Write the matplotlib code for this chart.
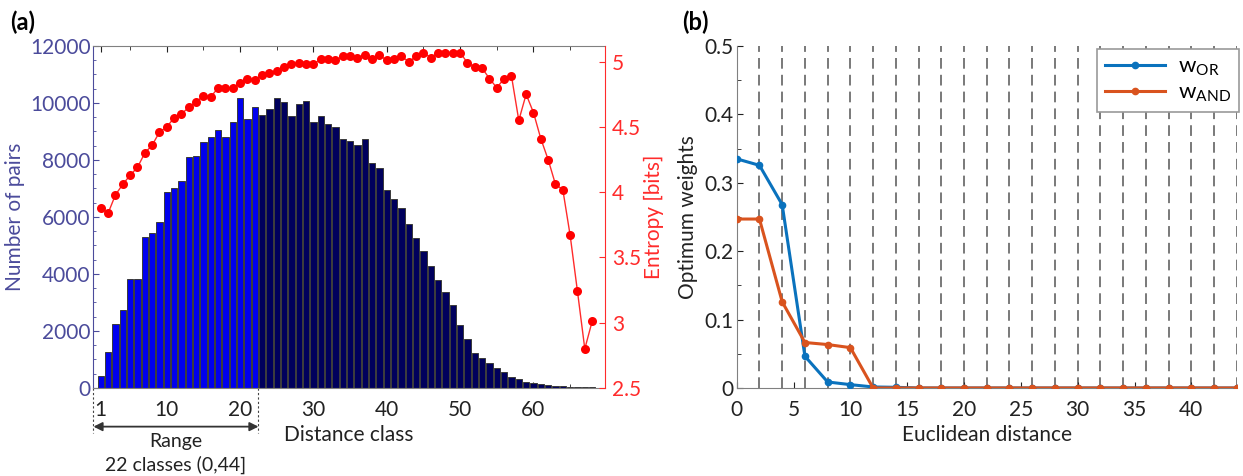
import matplotlib
matplotlib.use("Agg")
import matplotlib.pyplot as plt
import numpy as np
from matplotlib.ticker import MultipleLocator, FixedLocator

plt.rcParams["font.family"] = ["Lato", "DejaVu Sans"]
plt.rcParams["mathtext.fontset"] = "custom"
plt.rcParams["mathtext.rm"] = "Lato"

# (a) distance classes: pair counts and entropy
pair_counts = [433, 1263, 2234, 2725, 3813, 3813, 5310, 5427, 5837, 6866,
               7006, 7264, 8118, 8141, 8620, 8820, 9053, 8820, 9322, 10164,
               9427, 9848, 9580, 9778, 10164, 10048, 9544, 9966, 10083, 9322,
               9544, 9264, 9147, 8726, 8679, 8527, 8749, 7883, 7731, 6936,
               6632, 6304, 5743, 5275, 4807, 4281, 3790, 3380, 2912, 2211,
               1719, 1240, 1041, 866, 714, 573, 397, 316, 222, 187,
               140, 105, 80, 60, 50, 40, 30, 20, 15]
entropy = [3.88, 3.84, 3.98, 4.06, 4.13, 4.19, 4.30, 4.36, 4.46, 4.50,
           4.57, 4.60, 4.65, 4.69, 4.74, 4.73, 4.80, 4.80, 4.80, 4.84,
           4.87, 4.86, 4.90, 4.91, 4.93, 4.96, 4.985, 4.99, 4.98, 4.98,
           5.02, 5.02, 5.01, 5.04, 5.04, 5.03, 5.05, 5.02, 5.05, 5.01,
           5.02, 5.04, 5.00, 5.04, 5.07, 5.03, 5.07, 5.07, 5.07, 5.07,
           4.99, 4.96, 4.95, 4.87, 4.80, 4.87, 4.89, 4.55, 4.75, 4.61,
           4.41, 4.25, 4.06, 4.02, 3.67, 3.24, 2.80, 3.01]
range_classes = 22

# (b) optimum weights vs euclidean distance
distance = [0, 2, 4, 6, 8, 10, 12, 14, 16, 18, 20, 22, 24, 26, 28, 30, 32, 34, 36, 38, 40, 42, 44]
w_or = [0.335, 0.3255, 0.268, 0.0464, 0.0088, 0.0049, 0.0015, 0.001] + [0.0] * 15
w_and = [0.247, 0.247, 0.126, 0.0665, 0.0635, 0.059] + [0.0] * 17

AX_BLUE = "#4b4b9b"
RED = "#ff2b2b"
GREY = "#808080"
TXT = "#222222"
FS_TICK = 15
FS_LAB = 15

fig = plt.figure(figsize=(12.43, 4.76), dpi=100)

# panel (a)
ax = fig.add_axes([0.0752, 0.1849, 0.4115, 0.7185])
cls = np.arange(1, len(pair_counts) + 1)
colors = ["#0000ee" if c <= range_classes else "#00005c" for c in cls]
ax.bar(cls, pair_counts, width=0.85, color=colors, edgecolor="#3a3a3a", linewidth=0.7, zorder=2)
ax.set_xlim(0, 69.75)
ax.set_ylim(0, 12000)
ax.xaxis.set_major_locator(FixedLocator([1, 10, 20, 30, 40, 50, 60]))
ax.xaxis.set_minor_locator(FixedLocator([5, 15, 25, 35, 45, 55, 65]))
ax.yaxis.set_major_locator(MultipleLocator(2000))
ax.yaxis.set_minor_locator(MultipleLocator(500))
ax.tick_params(axis="x", which="both", direction="in", top=True, colors=TXT,
               labelsize=FS_TICK, pad=9)
ax.tick_params(axis="x", which="major", length=4)
ax.tick_params(axis="x", which="minor", length=3)
ax.tick_params(axis="y", which="both", direction="in", colors=AX_BLUE, labelsize=FS_TICK, pad=2)
ax.tick_params(axis="y", which="major", length=4)
ax.tick_params(axis="y", which="minor", length=2.5)
for s in ("top", "bottom"):
    ax.spines[s].set_color(GREY)
ax.spines["left"].set_color(AX_BLUE)
ax.spines["right"].set_visible(False)
ax.set_ylabel("Number of pairs", color=AX_BLUE, fontsize=FS_LAB, labelpad=4)
ax.set_xlabel("Distance class", fontsize=FS_LAB, color=TXT, labelpad=3)

ax2 = ax.twinx()
ax2.plot(np.arange(1, len(entropy) + 1), entropy, "-o", color=RED, lw=1.0,
         markersize=6.5, markeredgewidth=0, markerfacecolor="#ff0000")
ax2.set_ylim(2.5, 5.12)
ax2.yaxis.set_major_locator(MultipleLocator(0.5))
ax2.yaxis.set_major_formatter(plt.FuncFormatter(lambda v, p: f"{v:g}"))
ax2.tick_params(axis="y", direction="in", colors=RED, labelsize=FS_TICK, length=4, pad=5)
ax2.spines["right"].set_color(RED)
for s in ("top", "bottom", "left"):
    ax2.spines[s].set_visible(False)
ax2.set_ylabel("Entropy [bits]", color=RED, fontsize=FS_LAB, labelpad=2)

# range annotation under the axis
tr = ax.get_xaxis_transform()
for xv in (0, range_classes + 0.5):
    ax.plot([xv, xv], [0, -0.132], transform=tr, color="#444444", lw=0.8,
            ls=(0, (2, 2)), clip_on=False)
ax.annotate("", xy=(0, -0.113), xytext=(range_classes + 0.5, -0.113), xycoords=tr,
            textcoords=tr, arrowprops=dict(arrowstyle="<|-|>", color="#333333",
                                           lw=1.3, mutation_scale=13, shrinkA=0, shrinkB=0))
ax.text((range_classes + 0.5) / 2, -0.156, "Range", transform=tr, ha="center", va="center",
        fontsize=14, color=TXT)
ax.text((range_classes + 0.5) / 2, -0.224, "22 classes (0,44]", transform=tr, ha="center",
        va="center", fontsize=14, color=TXT)

fig.text(0.008, 0.953, "(a)", fontsize=17, fontweight="bold", va="center")

# panel (b)
bx = fig.add_axes([0.5927, 0.1849, 0.4023, 0.7185])
for xv in distance[1:]:
    bx.axvline(xv, color="#555555", lw=1.1, ls=(0, (7, 4)), zorder=1)
bx.plot(distance, w_or, "-o", color="#0a72bd", lw=2.2, markersize=4.5, label=r"$\mathrm{w}_{\mathrm{OR}}$", zorder=3)
bx.plot(distance, w_and, "-o", color="#d9531e", lw=2.2, markersize=4.5, label=r"$\mathrm{w}_{\mathrm{AND}}$", zorder=4)
bx.set_xlim(0, 44)
bx.set_ylim(0, 0.5)
bx.xaxis.set_major_locator(MultipleLocator(5))
bx.yaxis.set_major_locator(MultipleLocator(0.1))
bx.yaxis.set_minor_locator(MultipleLocator(0.05))
bx.yaxis.set_major_formatter(plt.FuncFormatter(lambda v, p: f"{v:g}"))
bx.tick_params(which="both", direction="in", colors=TXT, labelsize=FS_TICK)
bx.tick_params(which="major", length=4)
bx.tick_params(which="minor", length=3)
bx.tick_params(axis="x", pad=9)
bx.tick_params(axis="y", pad=2)
for s in ("top", "right"):
    bx.spines[s].set_visible(False)
for s in ("left", "bottom"):
    bx.spines[s].set_color(GREY)
bx.set_xlabel("Euclidean distance", fontsize=FS_LAB, color=TXT, labelpad=3)
bx.set_ylabel("Optimum weights", fontsize=FS_LAB, color=TXT, labelpad=5)
leg = bx.legend(loc="upper right", bbox_to_anchor=(1.004, 0.992), borderaxespad=0,
                fontsize=16, fancybox=False, framealpha=1, edgecolor="#9a9a9a",
                handlelength=2.7, borderpad=0.35, labelspacing=0.2, handletextpad=0.6)
leg.get_frame().set_linewidth(1.2)

fig.text(0.549, 0.953, "(b)", fontsize=17, fontweight="bold", va="center")

fig.savefig("out.png", dpi=100)
